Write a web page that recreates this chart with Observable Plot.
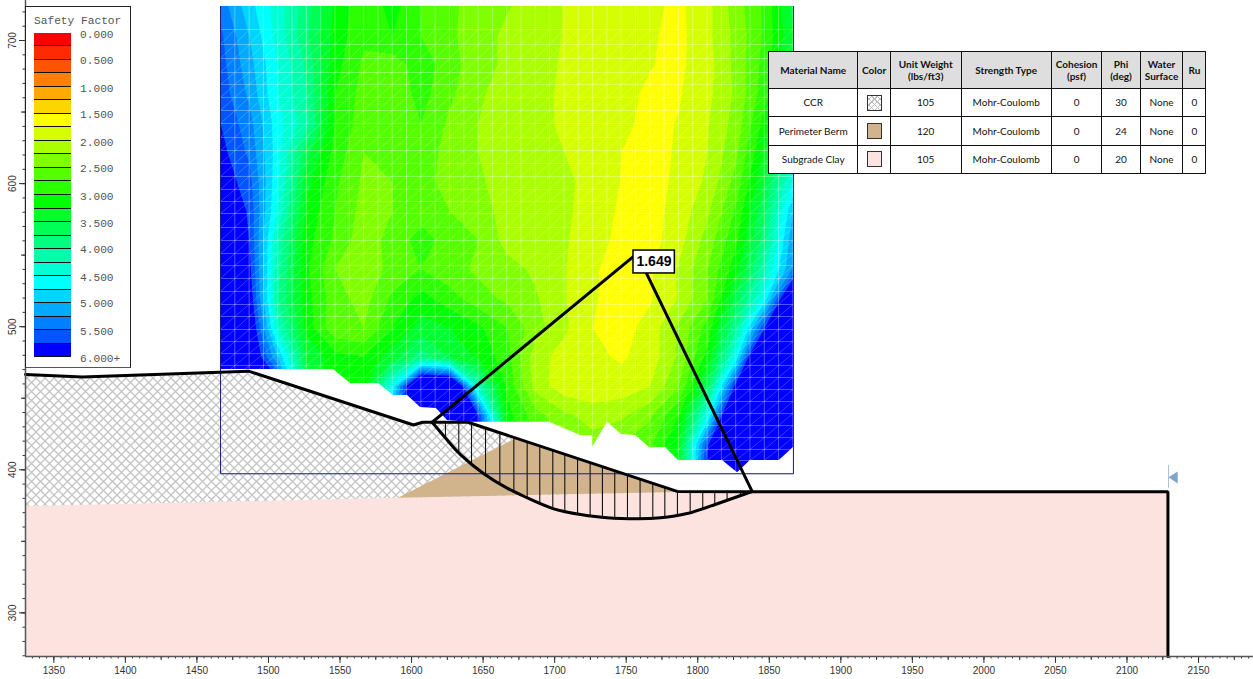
<!DOCTYPE html>
<html>
<head>
<meta charset="utf-8">
<script src="https://cdn.jsdelivr.net/npm/d3@7"></script>
<script src="https://cdn.jsdelivr.net/npm/@observablehq/plot@0.6"></script>
<style>
html,body{margin:0;padding:0;background:#fff;}
#chart{position:relative;width:1253px;height:679px;overflow:hidden;}
#chart svg{display:block;}
#legend{position:absolute;left:25px;top:6px;width:106px;height:362px;background:#fff;border:1px solid #222;box-sizing:border-box;border-right-width:1.5px;border-bottom:1.5px solid #555;font-family:"Liberation Mono",monospace;font-size:11.2px;color:#555;}
#legend .t{position:absolute;left:8px;top:8px;white-space:pre;}
#legend .s{position:absolute;left:7.5px;width:37.5px;box-sizing:border-box;border-bottom:1px solid #111;}
#legend .l{position:absolute;left:54px;line-height:12px;}
#mat{position:absolute;left:768px;top:51px;border-collapse:collapse;table-layout:fixed;width:437.5px;background:#fff;font-family:Lato,sans-serif;font-size:10px;color:#111;}
#mat td,#mat th{border:1px solid #111;padding:0;text-align:center;vertical-align:middle;line-height:12.5px;}
#mat th{background:#dedede;font-weight:700;height:36px;}
#mat td{height:27.3px;}
.sw{display:inline-block;width:15px;height:16px;border:1px solid #333;box-sizing:border-box;vertical-align:middle;}
</style>
</head>
<body>
<div id="chart"></div>
<script>
// Safety-factor samples (rows top to bottom, columns left to right)
const fsCols = 21, fsRows = 17;
const fsValues = [
5.40,4.85,4.37,3.85,3.20,2.80,3.10,2.75,2.55,2.40,2.27,2.14,1.99,1.92,1.87,1.80,1.70,1.92,2.38,2.80,3.60,
5.55,5.00,4.40,3.80,3.15,2.80,3.00,2.75,2.55,2.35,2.20,2.10,1.99,1.90,1.84,1.78,1.68,1.93,2.33,2.80,3.50,
5.60,5.10,4.50,3.95,3.10,2.70,2.60,2.90,2.60,2.35,2.20,2.10,1.97,1.88,1.82,1.76,1.70,1.90,2.33,2.85,3.60,
5.65,5.20,4.50,4.00,3.00,2.65,2.55,2.85,2.55,2.30,2.10,2.07,1.96,1.87,1.80,1.72,1.73,1.93,2.30,2.90,3.70,
5.75,5.35,4.60,4.10,3.00,2.60,2.55,2.75,2.45,2.25,2.10,2.07,1.96,1.87,1.79,1.70,1.76,1.98,2.35,3.10,4.00,
5.85,5.45,4.60,3.60,2.90,2.50,2.50,2.65,2.40,2.25,2.10,2.10,2.00,1.85,1.75,1.66,1.78,2.00,2.45,3.30,4.20,
5.95,5.60,4.55,3.35,2.80,2.45,2.50,2.55,2.45,2.30,2.10,2.10,2.05,1.92,1.74,1.66,1.80,2.05,2.60,3.50,4.55,
6.20,5.70,4.45,3.20,2.75,2.40,2.50,2.65,2.50,2.40,2.12,2.12,2.05,1.88,1.71,1.65,1.85,2.20,2.80,3.70,5.00,
6.20,5.75,4.20,3.10,2.70,2.35,2.60,2.85,2.65,2.50,2.15,2.12,2.03,1.85,1.68,1.65,1.90,2.35,2.95,3.90,5.20,
6.20,5.85,4.10,3.05,2.50,2.30,2.60,2.75,2.60,2.45,2.35,2.20,2.02,1.78,1.65,1.72,2.03,2.50,3.15,4.20,5.30,
6.20,6.00,4.00,3.10,2.60,2.40,2.80,3.10,2.85,2.60,2.45,2.28,2.02,1.77,1.66,1.72,2.02,2.50,3.60,4.60,6.70,
6.20,6.20,4.30,3.15,2.55,2.50,3.00,3.35,3.25,3.05,2.75,2.35,2.05,1.75,1.65,1.85,2.30,2.85,4.00,5.75,6.50,
6.30,6.30,5.00,3.50,3.10,3.00,3.40,3.90,3.50,3.20,2.85,2.10,1.90,1.80,1.72,1.85,2.30,3.10,4.60,7.30,7.00,
6.30,6.30,6.00,3.50,3.10,3.20,4.60,7.00,7.00,4.20,2.95,2.15,1.85,1.80,1.85,2.00,2.50,3.65,5.90,7.00,7.00,
6.30,6.30,6.30,4.00,3.50,3.50,5.00,7.00,7.00,5.75,3.10,2.60,2.30,2.15,2.20,2.45,3.00,4.50,7.00,7.00,7.00,
6.30,6.30,6.30,5.00,4.00,4.00,5.00,6.20,6.20,6.20,3.50,2.80,2.50,2.35,2.50,2.70,3.30,5.70,7.00,7.00,7.00,
6.30,6.30,6.30,5.00,4.00,4.00,5.00,6.20,6.20,6.20,3.50,2.80,2.50,2.35,2.50,2.70,3.30,6.00,7.00,7.00,7.00
];
const thresholds = d3.range(0, 6, 0.25);
const bandColors = ["#ff0000","#ff2b00","#ff5500","#ff8000","#ffaa00","#ffd500","#ffff00","#d5ff00","#aaff00","#80ff00","#55ff00","#2bff00","#00ff00","#00ff2b","#00ff55","#00ff80","#00ffaa","#00ffd5","#00ffff","#00d5ff","#00aaff","#0080ff","#0055ff","#0000ff"];
const legendLabels = ["0.000","0.500","1.000","1.500","2.000","2.500","3.000","3.500","4.000","4.500","5.000","5.500","6.000+"];

// Axis domain, ft
const xDomain = [1330.2, 2188.4], yDomain = [269.5, 727.96];
// Extent of the search grid
const gridX = [1466.5, 1866.9], gridY = [397.2, 723.8];
const meshYs = [707.7,697.2,687.4,677.6,669.3,660.2,651.1,642,632.2,623.1,614,605,595.9,587.5,579.1,569.3,560.2,551.1,542.7,533.7,524.6,515.5,507.1,498,489.6,481.2,472.9,464.5,456.1,447.7,439.3,430.9,422.5,414.2,406.5];
const meshXs = d3.range(1466.5, 1867, 10);
// Upper edge of the part of the grid with no result (stepped)
const blankX = [1466.5,1545.4,1557.3,1576.9,1587.4,1597.2,1606.3,1617.4,1625.1,1639.4,1686.6,1696.4,1718.1,1726.4,1726.4,1737,1746.7,1756.5,1766.3,1777.5,1786.5,1817.3,1827.8,1836.8,1857,1866.9];
const blankY = [470.0,470.0,460.3,460.3,451.9,451.9,443.5,442.8,434.4,433.2,433.2,433.2,423.9,423.9,415.6,433.2,424.6,424,415.5,415.5,406.5,406.5,398,406.5,406.5,415.5];

// Profile lines
const surfaceX = [1330.2,1370,1486.1,1601.4,1607.6,1639.4,1785.6,1838,2128.6,2128.6];
const surfaceY = [466.6,464.8,468.9,431.3,433.2,433.2,384.9,384.6,384.6,269.5];
const clayX = [1330.2,1590.9,1788,1838,2128.6];
const clayY = [374.3,380.1,384.1,384.6,384.6];
const ccrX = [1330.2,1370,1486.1,1601.4,1607.6,1639.4,1785.6];
const ccrY = [466.6,464.8,468.9,431.3,433.2,433.2,384.9];
const bermX = [1590.9,1673.3,1785.6];
const bermTop = [380.1,421.8,384.9];
const bermBase = [380.1,381.8,384.1];
// Critical slip surface and its slices
const slipX = [1614.4,1624.9,1634.2,1650.5,1666.8,1680.8,1699.4,1718.1,1736.7,1757.7,1774,1792.6,1811.2,1838];
const slipY = [433.2,420.8,410.6,397.2,387.2,380.4,372.7,368.7,366.4,365.7,366.4,369.4,375.4,384.8];
const sliceX = [1623.7,1633,1641.9,1651.7,1661.7,1671.5,1680.8,1689.6,1698.7,1707.1,1716,1724.8,1733.4,1742,1750.9,1759.7,1768.6,1777,1785.8,1794.7,1803.5,1811.9,1820.5,1829.8];
const sliceTop = [433.3,433.3,432.3,429.3,425.8,422.5,419.5,416.7,413.7,410.9,408.1,405.1,402.3,399.5,396.5,393.7,390.6,387.8,385,385,385,385,385,385];
const sliceBase = [421.8,411.4,403.7,396.7,390.4,385.5,380.4,376.4,372.9,371,369.1,367.7,366.6,366.1,365.9,365.8,366,366.6,368.4,370.3,372.9,375.9,378.9,382];
const fanX = [1755.8,1614.4], fanY = [549.7,433.2];
const fan2X = [1764.2,1838], fan2Y = [537.2,384.9];
const fsLabel = "1.649", fsLabelX = 1769.4, fsLabelY = 545.2;
const fsBox = {x1:1755.1, x2:1784, y1:537.2, y2:553.2};
// Water table marker
const wtLineX = [2129,2129], wtLineY = [403,387.6];
const wtTriX = [2129,2135.4,2135.4], wtTriY = [394.8,398.8,390.4];
// Material table
const matHeaders = ["Material Name","Color","Unit Weight<br>(lbs/ft3)","Strength Type","Cohesion<br>(psf)","Phi<br>(deg)","Water<br>Surface","Ru"];
const matNames = ["CCR","Perimeter Berm","Subgrade Clay"];
const matWeights = [105,120,105];
const matStrength = ["Mohr-Coulomb","Mohr-Coulomb","Mohr-Coulomb"];
const matCohesion = [0,0,0];
const matPhi = [30,24,20];
const matWater = ["None","None","None"];
const matRu = [0,0,0];
const matColWidths = [89.4,32.3,71,90,50.7,38.3,42.7,23];

const tbl = (xs, ...cols) => xs.map((x,i)=>({x, a:cols[0]?.[i], b:cols[1]?.[i]}));
const hx = [gridX[0]-10.01, gridX[1]+10.01], hy = [gridY[1]+10.2, gridY[0]-10.2];
const blank = tbl(blankX, blankY);
const cells = meshXs.slice(0,-1).flatMap((x,i)=>meshYs.slice(1).map((y,j)=>({x1:x,x2:meshXs[i+1],y1:y,y2:meshYs[j]})));
const white = "#fff", meshStroke = "rgba(255,255,255,0.32)";

const plot = Plot.plot({
  width:1253, height:679, marginTop:0, marginRight:0, marginBottom:23, marginLeft:25,
  x:{domain:xDomain}, y:{domain:yDomain},
  color:{type:"threshold", domain:thresholds.slice(1), range:bandColors},
  style:{background:"#fff", fontFamily:"'Liberation Sans',Arial,sans-serif"},
  marks:[
    Plot.contour(fsValues,{value:Plot.identity, width:fsCols, height:fsRows, x1:hx[0], x2:hx[1], y1:hy[0], y2:hy[1], thresholds, fill:"value"}),
    // trim the contour field to the grid
    Plot.rect([{x1:hx[0]-1,x2:gridX[0],y1:hy[1],y2:hy[0]+1},{x1:gridX[1],x2:hx[1]+1,y1:hy[1],y2:hy[0]+1},{x1:hx[0]-1,x2:hx[1]+1,y1:gridY[1],y2:hy[0]+1},{x1:hx[0]-1,x2:hx[1]+1,y1:hy[1]-1,y2:gridY[0]}],{x1:"x1",x2:"x2",y1:"y1",y2:"y2",fill:white}),
    // search mesh
    Plot.link(cells,{x1:"x1",y1:"y1",x2:"x2",y2:"y2",stroke:"rgba(255,255,255,0.28)",strokeWidth:0.8}),
    Plot.ruleX(meshXs,{y1:gridY[0],y2:gridY[1],stroke:meshStroke,strokeWidth:1}),
    Plot.ruleY(meshYs,{x1:gridX[0],x2:gridX[1],stroke:meshStroke,strokeWidth:1}),
    Plot.areaY(blank,{x:"x",y1:"a",y2:gridY[0],fill:white}),
    // materials
    Plot.areaY(tbl(ccrX,ccrY),{x:"x",y1:"a",y2:360,fill:"url(#ccr)"}),
    Plot.areaY(tbl(clayX,clayY),{x:"x",y1:"a",y2:yDomain[0],fill:"#fde3df"}),
    Plot.areaY(tbl(bermX,bermTop,bermBase),{x:"x",y1:"a",y2:"b",fill:"#d2b48c"}),
    // grid frame
    Plot.line([[gridX[0],gridY[1]],[gridX[0],gridY[0]],[gridX[1],gridY[0]],[gridX[1],gridY[1]]],{stroke:"#1c1c86",strokeWidth:1}),
    // slices and critical surface
    Plot.ruleX(tbl(sliceX,sliceTop,sliceBase),{x:"x",y1:"a",y2:"b",stroke:"#111",strokeWidth:1.1}),
    Plot.line(tbl(slipX,slipY),{x:"x",y:"a",stroke:"#000",strokeWidth:3,curve:"natural"}),
    Plot.line(tbl(fanX,fanY),{x:"x",y:"a",stroke:"#000",strokeWidth:3}),
    Plot.line(tbl(fan2X,fan2Y),{x:"x",y:"a",stroke:"#000",strokeWidth:3}),
    Plot.line(tbl(surfaceX,surfaceY),{x:"x",y:"a",stroke:"#000",strokeWidth:3,strokeLinejoin:"miter"}),
    Plot.rect([fsBox],{x1:"x1",x2:"x2",y1:"y1",y2:"y2",fill:"#fff",stroke:"#000",strokeWidth:1.5}),
    Plot.text([fsLabel],{x:fsLabelX,y:fsLabelY,text:d=>d,fontSize:14,fontWeight:"bold",fill:"#000"}),
    // water marker
    Plot.line(tbl(wtLineX,wtLineY),{x:"x",y:"a",stroke:"#a8c2de",strokeWidth:1}),
    Plot.line(tbl(wtTriX,wtTriY),{x:"x",y:"a",fill:"#7fa5cc",stroke:"none"}),
    // axes
    Plot.axisX({ticks:d3.range(1335,2190,5),tickSize:2.5,stroke:"#333",anchor:"bottom",tickFormat:()=>"",label:null}),
    Plot.axisX({ticks:d3.range(1350,2190,25),tickSize:4,stroke:"#333",anchor:"bottom",tickFormat:()=>"",label:null}),
    Plot.axisX({ticks:d3.range(1350,2190,50),tickSize:7,tickPadding:3,stroke:"#333",anchor:"bottom",fontSize:10,fill:"#333",tickFormat:d3.format("d"),label:null}),
    Plot.axisY({ticks:d3.range(270,730,10),tickSize:2.5,stroke:"#333",anchor:"left",tickFormat:()=>"",label:null}),
    Plot.axisY({ticks:d3.range(300,730,50),tickSize:4,stroke:"#333",anchor:"left",tickFormat:()=>"",label:null}),
    Plot.axisY({ticks:d3.range(300,730,100),tickSize:6,tickPadding:4,tickRotate:-90,stroke:"#333",anchor:"left",fontSize:10,fill:"#333",tickFormat:d3.format("d"),label:null}),
    Plot.ruleY([yDomain[0]],{stroke:"#555",strokeWidth:1.5}),
    Plot.ruleX([xDomain[0]],{stroke:"#555",strokeWidth:1.5})
  ]
});
// crosshatch used by the CCR material
d3.select(plot).insert("defs",":first-child").html(
 `<pattern id="ccr" patternUnits="userSpaceOnUse" width="9" height="9"><path d="M0 0L9 9M9 0L0 9" stroke="#c4c4c4" stroke-width="1.3" fill="none"/></pattern>`);
const root = document.getElementById("chart");
root.appendChild(plot);

// Legend
const legend = document.createElement("div"); legend.id="legend";
let h = `<div class="t">Safety Factor</div>`;
const swTop = 25.5, swH = 13.54;
bandColors.forEach((c,i)=>{ h += `<div class="s" style="top:${swTop+i*swH}px;height:${swH}px;background:${c}"></div>`; });
const labTops = [22,48,76,102,130,156,184,211,237,265,291,319,346];
legendLabels.forEach((t,i)=>{ h += `<div class="l" style="top:${labTops[i]}px">${t}</div>`; });
legend.innerHTML = h; root.appendChild(legend);

// Material table
const hatch = "background-color:#fff;background-image:repeating-linear-gradient(45deg,#bbb 0 .8px,transparent .8px 4px),repeating-linear-gradient(-45deg,#bbb 0 .8px,transparent .8px 4px);";
const swatches = [hatch,"background:#d2b48c;","background:#fde3df;"];
let t = `<table id="mat"><colgroup>${matColWidths.map(w=>`<col style="width:${w}px">`).join("")}</colgroup><tr>${matHeaders.map(m=>`<th>${m}</th>`).join("")}</tr>`;
matNames.forEach((n,i)=>{ t += `<tr><td>${n}</td><td><span class="sw" style="${swatches[i]}"></span></td><td>${matWeights[i]}</td><td>${matStrength[i]}</td><td>${matCohesion[i]}</td><td>${matPhi[i]}</td><td>${matWater[i]}</td><td>${matRu[i]}</td></tr>`; });
t += `</table>`;
root.insertAdjacentHTML("beforeend", t);
</script>
</body>
</html>
